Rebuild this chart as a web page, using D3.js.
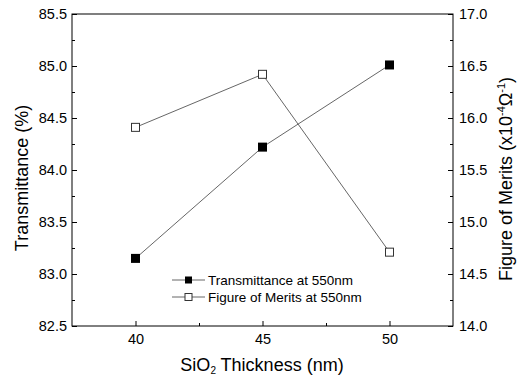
<!DOCTYPE html>
<html><head><meta charset="utf-8">
<script src="https://cdn.jsdelivr.net/npm/d3@7"></script>
<style>
body{margin:0;background:#fff;}
text{font-family:"Liberation Sans",Arial,sans-serif;fill:#000;}
</style></head>
<body><svg id="c" width="524" height="378"></svg>
<script>
const thickness = [40, 45, 50];
const transmittance = [83.15, 84.22, 85.01];
const fom = [15.91, 16.42, 14.71];
const xTicks = [40, 45, 50];
const xMinor = [42.5, 47.5];
const yLeftTicks = [82.5, 83.0, 83.5, 84.0, 84.5, 85.0, 85.5];
const yRightTicks = [14.0, 14.5, 15.0, 15.5, 16.0, 16.5, 17.0];
const seriesNames = ["Transmittance at 550nm", "Figure of Merits at 550nm"];

const svg = d3.select("#c");
const L = 72, R = 453, T = 14, B = 326;
const x = d3.scaleLinear().domain([37.5, 52.5]).range([L, R]);
const yL = d3.scaleLinear().domain([82.5, 85.5]).range([B, T]);
const yR = d3.scaleLinear().domain([14, 17]).range([B, T]);

const axisColor = "#000";
svg.append("rect").attr("x", L).attr("y", T).attr("width", R - L).attr("height", B - T)
  .attr("fill", "none").attr("stroke", axisColor).attr("stroke-width", 1);

const fs = 14.5;
const gL = svg.append("g").attr("transform", `translate(${L},0)`)
  .call(d3.axisLeft(yL).tickValues(yLeftTicks).tickFormat(d3.format(".1f")).tickSize(-5).tickPadding(5));
const gLm = svg.append("g").attr("transform", `translate(${L},0)`)
  .call(d3.axisLeft(yL).tickValues(d3.range(82.75, 85.5, 0.5)).tickFormat("").tickSize(-3));
const gR = svg.append("g").attr("transform", `translate(${R},0)`)
  .call(d3.axisRight(yR).tickValues(yRightTicks).tickFormat(d3.format(".1f")).tickSize(-5).tickPadding(6));
const gRm = svg.append("g").attr("transform", `translate(${R},0)`)
  .call(d3.axisRight(yR).tickValues(d3.range(14.25, 17, 0.5)).tickFormat("").tickSize(-3));
const gB = svg.append("g").attr("transform", `translate(0,${B})`)
  .call(d3.axisBottom(x).tickValues(xTicks).tickFormat(d3.format("d")).tickSize(-5).tickPadding(8));
const gBm = svg.append("g").attr("transform", `translate(0,${B})`)
  .call(d3.axisBottom(x).tickValues(xMinor).tickFormat("").tickSize(-3));

[gL, gLm, gR, gRm, gB, gBm].forEach(g => {
  g.select(".domain").remove();
  g.selectAll("line").attr("stroke", axisColor);
  g.selectAll("text").attr("font-size", fs).attr("font-family", "Liberation Sans, Arial, sans-serif").attr("fill", "#222");
});

const lineL = d3.line().x((d, i) => x(thickness[i])).y(d => yL(d));
const lineR = d3.line().x((d, i) => x(thickness[i])).y(d => yR(d));
svg.append("path").attr("d", lineL(transmittance)).attr("fill", "none").attr("stroke", "#555").attr("stroke-width", 0.9);
svg.append("path").attr("d", lineR(fom)).attr("fill", "none").attr("stroke", "#555").attr("stroke-width", 0.9);

const ms = 9;
svg.selectAll(".mT").data(transmittance).enter().append("rect")
  .attr("x", (d, i) => x(thickness[i]) - ms / 2).attr("y", d => yL(d) - ms / 2)
  .attr("width", ms).attr("height", ms).attr("fill", "#000");
svg.selectAll(".mF").data(fom).enter().append("rect")
  .attr("x", (d, i) => x(thickness[i]) - ms / 2 + 0.5).attr("y", d => yR(d) - ms / 2 + 0.5)
  .attr("width", ms - 1).attr("height", ms - 1).attr("fill", "#fff").attr("stroke", "#333").attr("stroke-width", 1);

const lg = svg.append("g");
const legY = [280, 297];
seriesNames.forEach((name, i) => {
  const y = legY[i];
  lg.append("line").attr("x1", 172).attr("x2", 205).attr("y1", y).attr("y2", y).attr("stroke", "#555").attr("stroke-width", 0.9);
  const s = 7;
  lg.append("rect").attr("x", 188.5 - s / 2).attr("y", y - s / 2).attr("width", s).attr("height", s)
    .attr("fill", i === 0 ? "#000" : "#fff").attr("stroke", i === 0 ? "none" : "#333");
  lg.append("text").attr("x", 208).attr("y", y + 5).attr("font-size", 13.5).attr("fill", "#222").text(name);
});

svg.append("text").attr("transform", `translate(28,178) rotate(-90)`)
  .attr("text-anchor", "middle").attr("font-size", 18).attr("fill", "#222").text("Transmittance (%)");

const rt = svg.append("text").attr("transform", `translate(512,179) rotate(-90)`)
  .attr("text-anchor", "middle").attr("font-size", 18).attr("fill", "#222");
rt.append("tspan").text("Figure of Merits (x10");
rt.append("tspan").attr("font-size", 11).attr("dy", -7).text("-4");
rt.append("tspan").attr("dy", 7).text("Ω");
rt.append("tspan").attr("font-size", 11).attr("dy", -7).text("-1");
rt.append("tspan").attr("dy", 7).text(")");

const xt = svg.append("text").attr("x", 262).attr("y", 371).attr("text-anchor", "middle")
  .attr("font-size", 18).attr("fill", "#222");
xt.append("tspan").text("SiO");
xt.append("tspan").attr("font-size", 10).attr("dy", 3).text("2");
xt.append("tspan").attr("dy", -3).text(" Thickness (nm)");
</script>
</body></html>
